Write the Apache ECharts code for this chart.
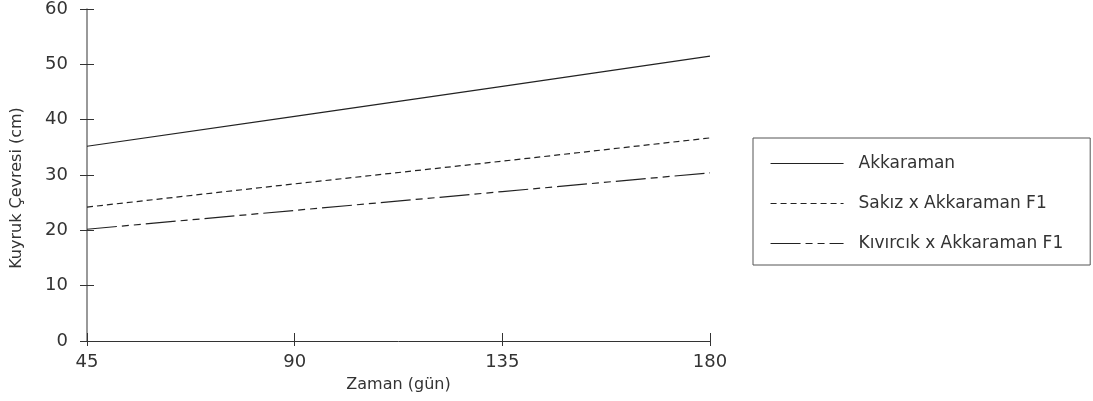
<!DOCTYPE html>
<html><head><meta charset="utf-8">
<script src="https://cdn.jsdelivr.net/npm/echarts@6/dist/echarts.min.js"></script>
<style>html,body{margin:0;padding:0;background:#fff}#c{width:1093px;height:401px}</style>
</head><body><div id="c"></div>
<script>
const days = [45, 90, 135, 180];
const akkaraman = [35.2, 40.6, 46.0, 51.5];
const sakiz = [24.2, 28.4, 32.5, 36.7];
const kivircik = [20.2, 23.6, 27.0, 30.4];
const seriesNames = ['Akkaraman', 'Sakız x Akkaraman F1', 'Kıvırcık x Akkaraman F1'];
const xTitle = 'Zaman (gün)';
const yTitle = 'Kuyruk Çevresi (cm)';

const font = 'DejaVu Sans';
const txt = '#333';
const pair = arr => days.map((d, i) => [d, arr[i]]);
const chart = echarts.init(document.getElementById('c'));
const mk = (name, data, type) => ({
  name, type: 'line', data: pair(data), symbol: 'none', showSymbol: false, silent: true,
  lineStyle: { color: '#222', width: 1.2, type },
  itemStyle: { color: '#222' }
});
chart.setOption({
  animation: false,
  textStyle: { fontFamily: font },
  grid: { left: 87, right: 383, top: 9, bottom: 60 },
  xAxis: [{
    type: 'value', min: 45, max: 180, interval: 45,
    name: xTitle, nameLocation: 'middle', nameGap: 36,
    nameTextStyle: { color: txt, fontSize: 16, fontFamily: font },
    axisLine: { lineStyle: { color: '#333', width: 1 } },
    axisTick: { show: true, length: 5, lineStyle: { color: '#333' } },
    axisLabel: { color: txt, fontSize: 18, fontFamily: font, margin: 12 },
    splitLine: { show: false }
  }, {
    type: 'value', min: 45, max: 180, interval: 45, position: 'bottom',
    axisLine: { show: false },
    axisTick: { show: true, inside: true, length: 8, lineStyle: { color: '#333' } },
    axisLabel: { show: false }, splitLine: { show: false }
  }],
  yAxis: [{
    type: 'value', min: 0, max: 60, interval: 10,
    name: yTitle, nameLocation: 'middle', nameGap: 62,
    nameTextStyle: { color: txt, fontSize: 16, fontFamily: font, padding: [0, 26, 0, 0] },
    axisLine: { show: true, lineStyle: { color: '#777', width: 1.5 } },
    axisTick: { show: true, length: 7, lineStyle: { color: '#333' } },
    axisLabel: { color: txt, fontSize: 18, fontFamily: font, margin: 19 },
    splitLine: { show: false }
  }, {
    type: 'value', min: 0, max: 60, interval: 10, position: 'left',
    axisLine: { show: false },
    axisTick: { show: true, inside: true, length: 7, lineStyle: { color: '#333' } },
    axisLabel: { show: false }, splitLine: { show: false }
  }],
  legend: {
    orient: 'vertical', left: 753, top: 138,
    data: seriesNames,
    itemWidth: 73, itemHeight: 14, itemGap: 23,
    padding: [17, 27, 13, 17],
    borderColor: '#555', borderWidth: 1,
    itemStyle: { opacity: 0 },
    lineStyle: { width: 1.1 },
    textStyle: { color: txt, fontSize: 17, fontFamily: font, padding: [0, 0, 0, 10] }
  },
  series: [
    mk(seriesNames[0], akkaraman, 'solid'),
    mk(seriesNames[1], sakiz, [6, 4]),
    mk(seriesNames[2], kivircik, [30, 5, 7, 5, 7, 5])
  ]
});
</script></body></html>
